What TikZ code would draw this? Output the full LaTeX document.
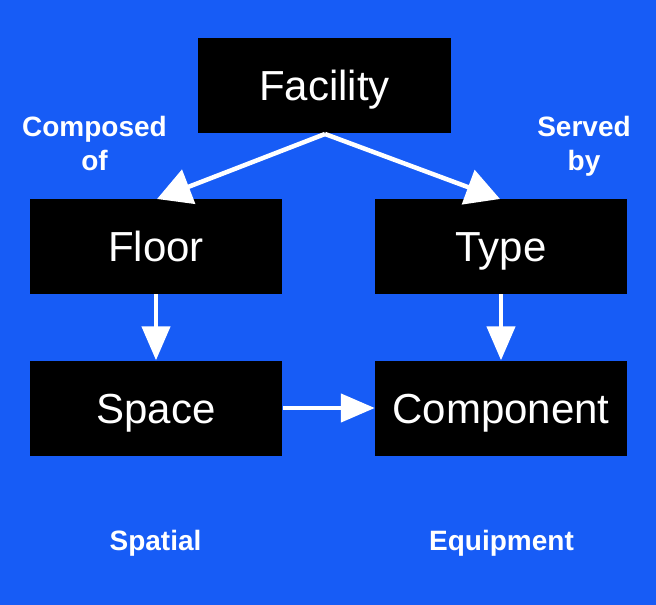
\documentclass[tikz,border=0pt]{standalone}
\usepackage{fontspec}
\setmainfont{Liberation Sans}
\usetikzlibrary{arrows.meta}
\definecolor{bg}{HTML}{175CF6}
\begin{document}
\begin{tikzpicture}[x=1pt,y=-1pt,
  box/.style={fill=black,text=white,minimum width=252pt,minimum height=95pt,inner sep=0pt,text height=30pt,text depth=0pt,font=\fontsize{42}{46}\selectfont},
  lbl/.style={text=white,font=\bfseries\fontsize{28}{34}\selectfont,align=center,inner sep=0pt},
  conn/.style={draw=white,line width=4.5pt,-{Triangle[length=34pt,width=28pt]}}]
\fill[bg] (0,0) rectangle (656,605);
\useasboundingbox (0,0) rectangle (656,605);
\node[box,minimum width=253pt] (fac) at (324.5,85.5) {Facility};
\node[box] (floor) at (156,246.5) {Floor};
\node[box] (type) at (501,246.5) {Type};
\node[box] (space) at (156,408) {Space};
\node[box] (comp) at (501,408) {Component};
\coordinate (top) at (325,134);
\draw[conn,-{Triangle[length=34pt,width=36pt]}] (top) -- (157,199);
\draw[conn,-{Triangle[length=34pt,width=36pt]}] (top) -- (500,199);
\draw[conn] (floor.south) -- (space.north);
\draw[conn] (type.south) -- (comp.north);
\draw[conn] (space.east) ++(1,0) coordinate (se) (se) -- (comp.west);
\node[lbl] (comp1) at (94.5,143.8) {Composed\\of};
\node[lbl] (serv) at (584,146.7) {Served\\by};
\node[lbl,anchor=base] (spat) at (155.5,550) {Spatial};
\node[lbl,anchor=base] (equip) at (501.5,550) {Equipment};
\end{tikzpicture}
\end{document}
